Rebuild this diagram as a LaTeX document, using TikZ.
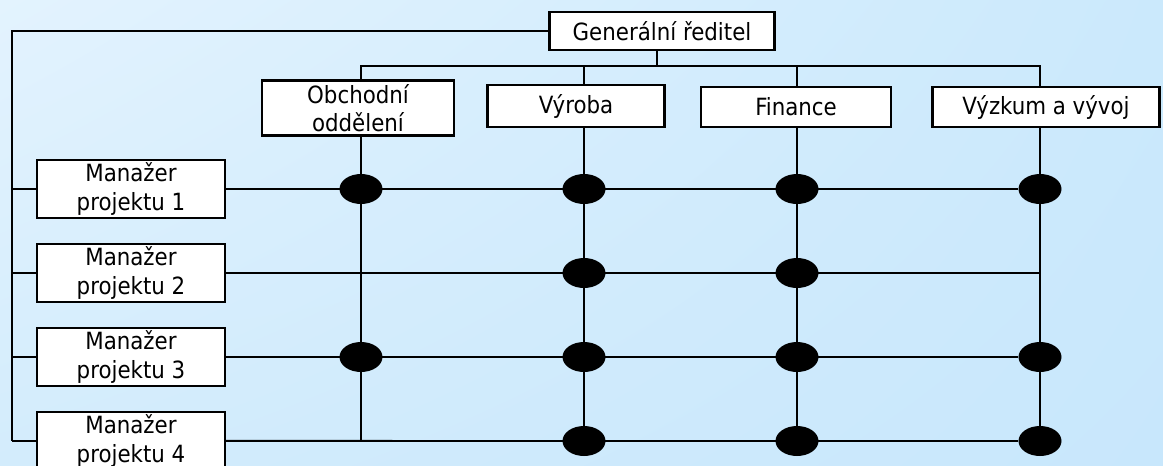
\documentclass[tikz,border=0pt]{standalone}
\usepackage{fontspec}
\setmainfont{DejaVu Sans Condensed}
\usetikzlibrary{shapes, shadings, positioning, calc}
\definecolor{bgul}{HTML}{E3F3FE}
\definecolor{bgur}{HTML}{CBE9FC}
\definecolor{bgll}{HTML}{D3ECFC}
\definecolor{bglr}{HTML}{C8E7FC}
\tikzstyle{box} = [rectangle, draw, fill=white, line width=1.2pt, align=center, inner sep=0pt, font=\fontsize{13.5}{16}\selectfont]
\tikzstyle{dot} = [ellipse, fill=black, minimum width=0.86cm, minimum height=0.6cm, inner sep=0pt]
\tikzstyle{line} = [draw, line width=1.1pt]

\begin{document}
\begin{tikzpicture}[x=0.02cm, y=-0.02cm, node distance=1.68cm]
        \shade [upper left=bgul, upper right=bgur, lower left=bgll, lower right=bglr] (0,0) rectangle (1163,466);
        \useasboundingbox (0,0) rectangle (1163,466);

        % top of the hierarchy
        \node [box, minimum width=4.5cm, minimum height=0.76cm] (gen) at (662,31) {Generální ředitel};
        \node [box, minimum width=3.84cm, minimum height=1.1cm] (obch) at (358,108) {Obchodní\\oddělení};
        \node [box, minimum width=3.54cm, minimum height=0.84cm] (vyroba) at (576,106) {Výroba};
        \node [box, minimum width=3.8cm, minimum height=0.8cm] (finance) at (796,107) {Finance};
        \node [box, minimum width=4.54cm, minimum height=0.8cm] (vyzkum) at (1046,107) {Výzkum a vývoj};
        \coordinate (bus) at (657,66);

        % project managers
        \node [box, minimum width=3.76cm, minimum height=1.16cm] (m1) at (131,189) {Manažer\\projektu 1};
        \node [box, minimum width=3.76cm, minimum height=1.16cm, below of=m1] (m2) {Manažer\\projektu 2};
        \node [box, minimum width=3.76cm, minimum height=1.16cm, below of=m2] (m3) {Manažer\\projektu 3};
        \node [box, minimum width=3.76cm, minimum height=1.16cm, below of=m3] (m4) {Manažer\\projektu 4};
        \coordinate (lft) at (12,441);

        % crossing points
        \node [dot] (e11) at (361,189) {};
        \node [dot] (e12) at (584,189) {};
        \node [dot] (e13) at (797,189) {};
        \node [dot] (e14) at (1040,189) {};
        \node [dot] (e22) at (584,273) {};
        \node [dot] (e23) at (797,273) {};
        \coordinate (e24) at (1040,273);
        \node [dot] (e31) at (361,357) {};
        \node [dot] (e32) at (584,357) {};
        \node [dot] (e33) at (797,357) {};
        \node [dot] (e34) at (1040,357) {};
        \coordinate (e41) at (361,441);
        \node [dot] (e42) at (584,441) {};
        \node [dot] (e43) at (797,441) {};
        \node [dot] (e44) at (1040,441) {};

        % line hierarchy
        \path [line] (bus |- gen.south) -- (bus);
        \path [line] (e11 |- obch.north) |- (bus) -| (e14 |- vyzkum.north);
        \path [line] (e12 |- bus) -- (e12 |- vyroba.north);
        \path [line] (e13 |- bus) -- (e13 |- finance.north);
        \path [line] (gen) -| (lft);
        \path [line] (m1) -- (m1 -| lft);
        \path [line] (m2) -- (m2 -| lft);
        \path [line] (m3) -- (m3 -| lft);
        \path [line] (m4) -- (lft);

        % matrix of departments and projects
        \path [line] (e41 |- obch.south) -- (e41);
        \path [line] (e42 |- vyroba.south) -- (e42);
        \path [line] (e43 |- finance.south) -- (e43);
        \path [line] (e44 |- vyzkum.south) -- (e44);
        \path [line] (m1) -- (e14);
        \path [line] (m2) -- (e24);
        \path [line] (m3) -- (e34);
        \path [line] (m4) -- (e44);
    \end{tikzpicture}
\end{document}
